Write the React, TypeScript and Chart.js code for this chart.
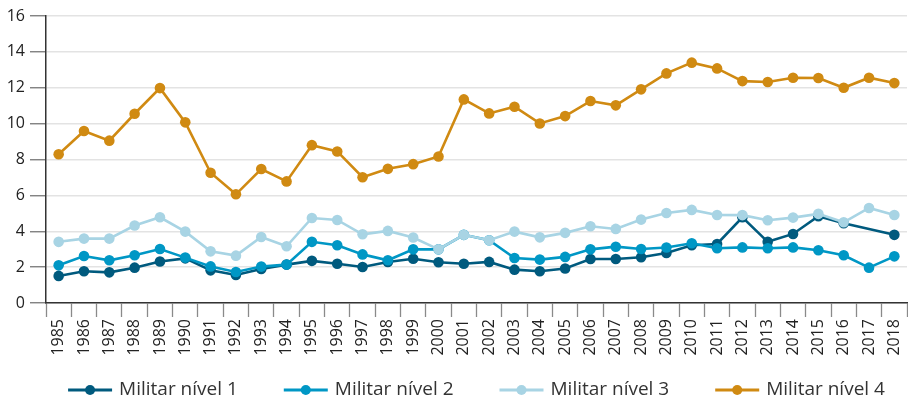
import React, { useEffect, useRef } from 'react';
import { Chart, registerables } from 'chart.js';
Chart.register(...registerables);

const years = [
  '1985','1986','1987','1988','1989','1990','1991','1992','1993','1994','1995','1996',
  '1997','1998','1999','2000','2001','2002','2003','2004','2005','2006','2007','2008',
  '2009','2010','2011','2012','2013','2014','2015','2016','2017','2018',
];

const nivel1 = [1.51,1.77,1.71,1.97,2.31,2.49,1.82,1.56,1.9,2.14,2.35,2.19,2.01,2.29,2.47,2.27,2.19,2.29,1.86,1.77,1.92,2.45,2.45,2.55,2.79,3.22,3.29,4.78,3.41,3.85,4.84,4.45,null,3.8];
const nivel2 = [2.1,2.62,2.38,2.66,3.01,2.53,2.04,1.73,2.03,2.14,3.41,3.22,2.71,2.38,2.99,2.99,3.8,3.5,2.51,2.42,2.57,2.99,3.14,3.01,3.09,3.33,3.05,3.1,3.05,3.1,2.94,2.66,1.97,2.6];
const nivel3 = [3.41,3.59,3.59,4.32,4.78,3.98,2.88,2.64,3.68,3.16,4.74,4.63,3.83,4.02,3.65,2.99,3.8,3.5,3.98,3.66,3.91,4.28,4.13,4.65,5.02,5.19,4.91,4.9,4.61,4.76,4.97,4.5,5.3,4.91];
const nivel4 = [8.29,9.59,9.05,10.55,11.98,10.07,7.26,6.06,7.47,6.78,8.8,8.45,7.01,7.48,7.74,8.17,11.35,10.57,10.94,10.01,10.42,11.26,11.02,11.91,12.8,13.4,13.08,12.37,12.32,12.56,12.54,12.0,12.56,12.26];

const seriesLabels = ['Militar nível 1', 'Militar nível 2', 'Militar nível 3', 'Militar nível 4'];
const seriesColors = ['#005a7e', '#0097c5', '#a8d4e4', '#d08a12'];

const FONT = '"Open Sans", "Noto Sans", sans-serif';

export default function App() {
  const ref = useRef<HTMLCanvasElement>(null);

  useEffect(() => {
    document.body.style.margin = '0';
    const canvas = ref.current;
    if (!canvas) return;

    const legendPlugin = {
      id: 'lineLegend',
      afterDraw(chart: any) {
        const ctx = chart.ctx as CanvasRenderingContext2D;
        ctx.save();
        ctx.font = `19px ${FONT}`;
        const items = chart.data.datasets.map((d: any) => ({
          text: d.label as string,
          color: d.borderColor as string,
          w: ctx.measureText(d.label).width,
        }));
        const lineW = 44;
        const gapText = 7;
        const gapItem = 46;
        const total =
          items.reduce((s: number, it: any) => s + lineW + gapText + it.w, 0) +
          gapItem * (items.length - 1);
        const ca = chart.chartArea;
        let x = (ca.left + ca.right) / 2 - total / 2;
        const y = chart.height - 12;
        ctx.textBaseline = 'middle';
        ctx.textAlign = 'left';
        for (const it of items) {
          ctx.strokeStyle = it.color;
          ctx.lineWidth = 3;
          ctx.beginPath();
          ctx.moveTo(x, y);
          ctx.lineTo(x + lineW, y);
          ctx.stroke();
          ctx.fillStyle = it.color;
          ctx.beginPath();
          ctx.arc(x + lineW / 2, y, 5, 0, Math.PI * 2);
          ctx.fill();
          ctx.fillStyle = '#333';
          ctx.fillText(it.text, x + lineW + gapText, y);
          x += lineW + gapText + it.w + gapItem;
        }
        ctx.restore();
      },
    };

    const allSeries = [nivel1, nivel2, nivel3, nivel4];
    const chart = new Chart(canvas, {
      type: 'line',
      data: {
        labels: years,
        datasets: allSeries.map((data, i) => ({
          label: seriesLabels[i],
          data,
          borderColor: seriesColors[i],
          backgroundColor: seriesColors[i],
          pointBackgroundColor: seriesColors[i],
          pointBorderWidth: 0,
          pointRadius: 5.3,
          borderWidth: 2.6,
          spanGaps: true,
          tension: 0,
          order: 4 - i,
        })),
      },
      options: {
        animation: false,
        responsive: true,
        maintainAspectRatio: false,
        layout: { autoPadding: false, padding: { top: 16, right: 1, bottom: 37, left: 0 } },
        plugins: {
          legend: { display: false },
          tooltip: { enabled: false },
        },
        scales: {
          x: {
            type: 'category',
            offset: true,
            afterFit: (scale: any) => {
              scale.height = 62;
              scale.paddingLeft = 0;
              scale.paddingRight = 0;
            },
            grid: {
              drawOnChartArea: false,
              offset: true,
              tickLength: 14,
              tickColor: '#8a8a8a',
              tickWidth: 1.3,
            },
            border: { color: '#333', width: 1.5 },
            ticks: {
              autoSkip: false,
              maxRotation: 90,
              minRotation: 90,
              padding: 2,
              color: '#222',
              font: { family: FONT, size: 16 },
            },
          },
          y: {
            min: 0,
            max: 16,
            afterFit: (scale: any) => {
              scale.width = 46;
              scale.paddingTop = 0;
              scale.paddingBottom = 0;
            },
            grid: {
              color: '#e3e3e3',
              lineWidth: 1.5,
              tickLength: 16,
              tickColor: '#777',
              tickWidth: 1.3,
            },
            border: { color: '#333', width: 1.5 },
            ticks: {
              stepSize: 2,
              padding: 5,
              color: '#222',
              font: { family: FONT, size: 16 },
            },
          },
        },
      },
      plugins: [legendPlugin],
    });

    return () => chart.destroy();
  }, []);

  return (
    <div style={{ position: 'fixed', left: 0, top: 0, width: 908, height: 402 }}>
      <canvas ref={ref} />
    </div>
  );
}
